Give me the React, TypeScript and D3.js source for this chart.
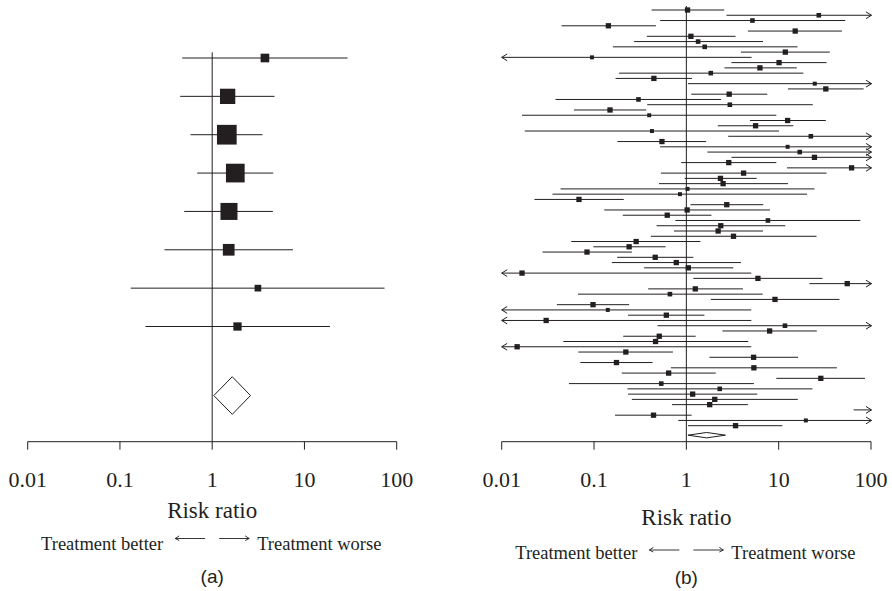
import React from "react";
import * as d3 from "d3";

// ---------- Panel (a) data ----------
const aRR = [3.73, 1.47, 1.44, 1.78, 1.52, 1.51, 3.13, 1.88];
const aLo = [0.473, 0.45, 0.582, 0.688, 0.497, 0.304, 0.131, 0.189];
const aHi = [29.3, 4.74, 3.51, 4.58, 4.55, 7.5, 73.8, 18.9];
const aWeight = [4.7, 14.7, 24.4, 22.0, 18.2, 8.6, 2.8, 4.3];
const aPooled = [1.04, 1.65, 2.6]; // lo, estimate, hi

// ---------- Panel (b) data ----------
// values beyond the axis (0.001 / 1000) are drawn as arrows; null = off scale
const bRR = [
  1.03, 27.2, 5.2, 0.143, 15.1, 1.12, 1.34, 1.58, 11.8, 0.095,
  10.1, 6.27, 1.84, 0.445, 24.6, 32.4, 2.91, 0.303, 2.96, 0.149,
  0.396, 12.5, 5.62, 0.424, 22.3, 0.544, 12.5, 16.9, 24.4, 2.88,
  61.6, 4.17, 2.34, 2.5, 1.03, 0.853, 0.0687, 2.74, 1.02, 0.621,
  7.65, 2.36, 2.21, 3.24, 0.286, 0.24, 0.0839, 0.46, 0.778, 1.05,
  0.0166, 5.96, 55.3, 1.25, 0.664, 9.12, 0.0975, 0.141, 0.607, 0.0303,
  11.7, 7.98, 0.509, 0.464, 0.0147, 0.221, 5.35, 0.175, 5.39, 0.643,
  28.6, 0.535, 2.3, 1.17, 2.03, 1.79, null, 0.441, 19.7, 3.41,
];
const bLo = [
  0.42, 2.72, 0.52, 0.0445, 4.64, 0.373, 0.272, 0.16, 3.9, 0.001,
  3.08, 2.59, 0.187, 0.171, 1.04, 12.6, 1.13, 0.0383, 0.377, 0.0606,
  0.0166, 4.88, 2.19, 0.0178, 2.84, 0.179, 0.52, 1.69, 3.08, 0.88,
  12.3, 0.53, 0.96, 0.505, 0.0434, 0.0355, 0.0226, 1.11, 0.129, 0.205,
  0.76, 0.476, 0.734, 0.413, 0.0567, 0.0983, 0.0277, 0.178, 0.156, 0.349,
  0.001, 1.19, 21.5, 0.386, 0.067, 1.84, 0.0396, 0.001, 0.234, 0.001,
  0.488, 2.46, 0.207, 0.0465, 0.001, 0.0676, 1.78, 0.071, 0.681, 0.2,
  9.43, 0.0535, 0.23, 0.234, 0.257, 0.699, 64.8, 0.169, 0.818, 1.04,
];
const bHi = [
  2.57, 1000, 52.6, 0.468, 48.4, 3.41, 6.76, 16.0, 35.8, 5.09,
  33.0, 15.7, 18.5, 1.15, 1000, 83.2, 7.53, 2.38, 23.4, 0.367,
  9.43, 32.4, 14.4, 10.1, 1000, 1.64, 1000, 1000, 1000, 9.43,
  1000, 33.0, 5.77, 12.6, 24.4, 20.3, 0.21, 6.81, 8.05, 1.87,
  76.6, 11.8, 6.76, 25.7, 1.42, 0.596, 0.257, 1.19, 3.9, 3.22,
  5.05, 29.8, 1000, 4.1, 6.7, 45.6, 0.24, 5.05, 1.57, 5.05,
  1000, 25.9, 1.26, 4.68, 5.05, 0.716, 16.2, 0.431, 42.7, 2.08,
  86.1, 5.39, 23.2, 5.86, 16.1, 4.64, 1000, 1.14, 1000, 10.96,
];
const bWeight = [
  1.6, 1.2, 1.2, 1.6, 1.6, 1.6, 1.2, 1.2, 1.6, 0.9,
  1.6, 1.6, 1.2, 1.6, 0.9, 1.6, 1.6, 1.2, 1.2, 1.6,
  0.9, 1.6, 1.6, 0.9, 1.2, 1.6, 0.9, 1.2, 1.6, 1.6,
  1.6, 1.6, 1.6, 1.6, 0.9, 0.9, 1.6, 1.6, 1.6, 1.6,
  1.2, 1.6, 1.6, 1.6, 1.6, 1.6, 1.6, 1.6, 1.6, 1.6,
  1.6, 1.6, 1.6, 1.6, 1.2, 1.6, 1.6, 0.9, 1.6, 1.6,
  1.2, 1.6, 1.6, 1.6, 1.6, 1.6, 1.6, 1.6, 1.6, 1.6,
  1.6, 1.2, 1.2, 1.6, 1.6, 1.6, 1.6, 1.6, 0.9, 1.6,
];
const bPooled = [1.04, 1.66, 2.65];

const tickValues = [0.01, 0.1, 1, 10, 100];
const tickLabels = ["0.01", "0.1", "1", "10", "100"];

const INK = "#231f20";
const SERIF = "'Liberation Serif', 'Times New Roman', serif";
const SANS = "'Liberation Sans', Arial, sans-serif";

type PanelProps = {
  x: d3.ScaleLogarithmic<number, number>;
  y: d3.ScaleLinear<number, number>;
  rr: (number | null)[];
  lo: number[];
  hi: number[];
  w: number[];
  size: d3.ScalePower<number, number>;
  pooled: number[];
  pooledIndex: number;
  diamondHalfH: number;
  refTop: number;
  axisY: number;
  label: string;
  riskY: number;
  treatY: number;
  letterY: number;
  arrowY: number;
  arrowGap: number;
  arrowLen: number;
};

function Panel(p: PanelProps) {
  const [d0, d1] = p.x.domain();
  const r0 = p.x(d0);
  const r1 = p.x(d1);
  const one = p.x(1);
  const ah = 3.4;
  const aw = 5.5;
  const rows = p.lo.map((lo, i) => {
    const yy = p.y(i);
    const left = lo < d0;
    const right = p.hi[i] > d1;
    const xl = left ? r0 : p.x(lo);
    const xr = right ? r1 + 0.5 : p.x(p.hi[i]);
    const est = p.rr[i];
    const s = p.size(p.w[i]);
    return (
      <g key={i}>
        <line x1={xl} x2={xr} y1={yy} y2={yy} stroke={INK} strokeWidth={1} />
        {left && (
          <path
            d={`M${xl + aw},${yy - ah} L${xl},${yy} L${xl + aw},${yy + ah}`}
            fill="none"
            stroke={INK}
            strokeWidth={1}
          />
        )}
        {right && (
          <path
            d={`M${xr - aw},${yy - ah} L${xr},${yy} L${xr - aw},${yy + ah}`}
            fill="none"
            stroke={INK}
            strokeWidth={1}
          />
        )}
        {est !== null && est >= d0 && est <= d1 && (
          <rect x={p.x(est) - s / 2} y={yy - s / 2} width={s} height={s} fill={INK} />
        )}
      </g>
    );
  });
  const py = p.y(p.pooledIndex);
  const dl = p.x(p.pooled[0]);
  const dc = p.x(p.pooled[1]);
  const dr = p.x(p.pooled[2]);
  const cx = (r0 + r1) / 2;
  const ay = p.arrowY;
  const g = p.arrowGap;
  const L = p.arrowLen;
  return (
    <g>
      <line x1={one} x2={one} y1={p.refTop} y2={p.axisY} stroke={INK} strokeWidth={1} />
      {rows}
      <path
        d={`M${dl},${py} L${dc},${py - p.diamondHalfH} L${dr},${py} L${dc},${py + p.diamondHalfH} Z`}
        fill="white"
        stroke={INK}
        strokeWidth={1}
      />
      {/* axis */}
      <line x1={r0} x2={r1} y1={p.axisY} y2={p.axisY} stroke={INK} strokeWidth={1} />
      {tickValues.map((t, i) => (
        <g key={t}>
          <line x1={p.x(t)} x2={p.x(t)} y1={p.axisY} y2={p.axisY + 8} stroke={INK} strokeWidth={1} />
          <text
            x={p.x(t)}
            y={487}
            textAnchor="middle"
            fontFamily={SERIF}
            fontSize={22}
            fill={INK}
          >
            {tickLabels[i]}
          </text>
        </g>
      ))}
      <text x={cx} y={p.riskY} textAnchor="middle" fontFamily={SERIF} fontSize={23} fill={INK}>
        Risk ratio
      </text>
      <text
        x={one - g - L - 12}
        y={p.treatY}
        textAnchor="end"
        fontFamily={SERIF}
        fontSize={18.5}
        fill={INK}
      >
        Treatment better
      </text>
      <text
        x={one + g + L + 8}
        y={p.treatY}
        textAnchor="start"
        fontFamily={SERIF}
        fontSize={18.5}
        fill={INK}
      >
        Treatment worse
      </text>
      <path
        d={`M${one - g},${ay} L${one - g - L},${ay} M${one - g - L + 4},${ay - 2.6} L${one - g - L},${ay} L${one - g - L + 4},${ay + 2}`}
        fill="none"
        stroke={INK}
        strokeWidth={0.9}
      />
      <path
        d={`M${one + g},${ay} L${one + g + L},${ay} M${one + g + L - 4},${ay - 2.6} L${one + g + L},${ay} L${one + g + L - 4},${ay + 2}`}
        fill="none"
        stroke={INK}
        strokeWidth={0.9}
      />
      <text x={cx} y={p.letterY} textAnchor="middle" fontFamily={SANS} fontSize={19} fill={INK}>
        {p.label}
      </text>
    </g>
  );
}

export default function App() {
  const xA = d3.scaleLog().domain([0.01, 100]).range([27.7, 396.7]);
  const xB = d3.scaleLog().domain([0.01, 100]).range([501.7, 871]);
  const yA = d3.scaleLinear().domain([0, 7]).range([58, 326.5]);
  const yB = d3.scaleLinear().domain([0, 79]).range([10, 425.7]);
  const sizeA = d3.scaleSqrt().domain([0, 24.4]).range([0, 19.7]);
  const sizeB = d3.scaleSqrt().domain([0, 1.6]).range([0, 5.3]);
  return (
    <svg
      width={892}
      height={591}
      viewBox="0 0 892 591"
      style={{ position: "absolute", left: 0, top: 0, background: "white" }}
    >
      <rect width={892} height={591} fill="white" />
      <Panel
        x={xA}
        y={yA}
        rr={aRR}
        lo={aLo}
        hi={aHi}
        w={aWeight}
        size={sizeA}
        pooled={aPooled}
        pooledIndex={8.8}
        diamondHalfH={18.8}
        refTop={52.3}
        axisY={441.7}
        label="(a)"
        riskY={517.7}
        treatY={550}
        letterY={583}
        arrowY={538.5}
        arrowGap={7}
        arrowLen={30}
      />
      <Panel
        x={xB}
        y={yB}
        rr={bRR}
        lo={bLo}
        hi={bHi}
        w={bWeight}
        size={sizeB}
        pooled={bPooled}
        pooledIndex={80.8}
        diamondHalfH={2.7}
        refTop={6}
        axisY={441.7}
        label="(b)"
        riskY={525}
        treatY={559.3}
        letterY={584}
        arrowY={550}
        arrowGap={7}
        arrowLen={30}
      />
    </svg>
  );
}
